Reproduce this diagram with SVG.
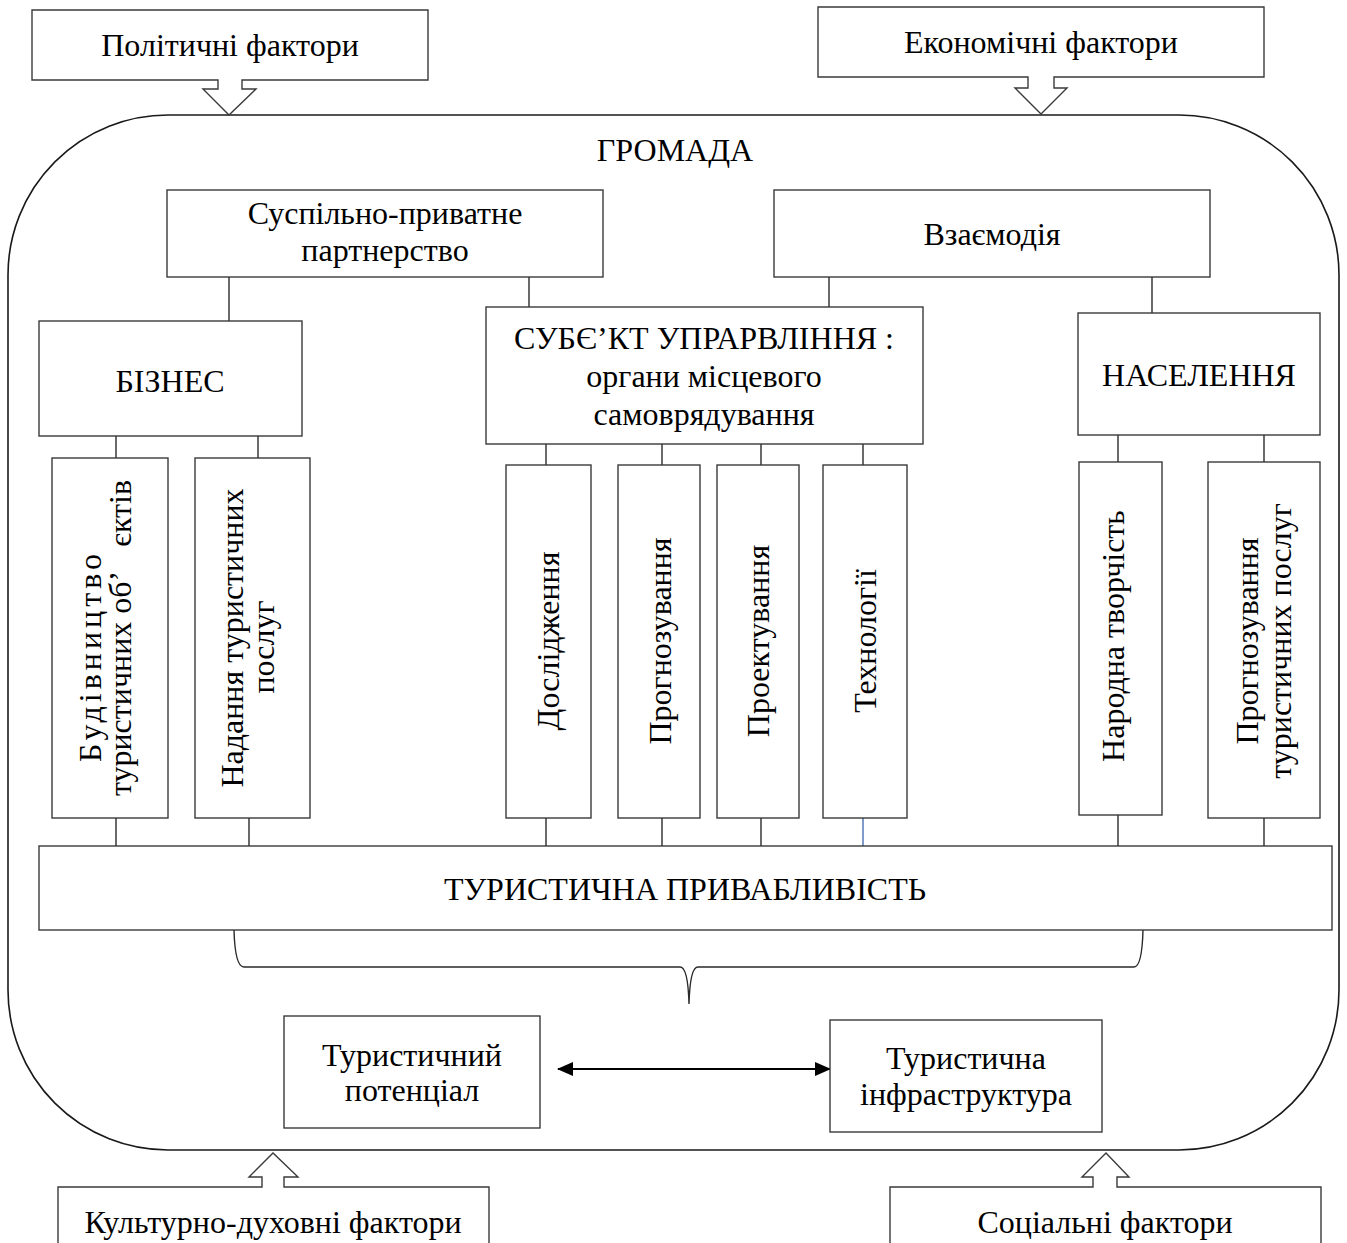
<svg xmlns="http://www.w3.org/2000/svg" width="1347" height="1243" viewBox="0 0 1347 1243">
<style>
.b{fill:#fff;stroke:#3a3a3a;stroke-width:1.4}
.o{fill:none;stroke:#1a1a1a;stroke-width:1.6}
.c{fill:none;stroke:#2a2a2a;stroke-width:1.4}
text{font-family:"Liberation Serif","Times New Roman",serif;font-size:32px;fill:#000;text-anchor:middle}
</style>
<defs>
<marker id="ah" viewBox="0 0 16 14" refX="15" refY="7" markerWidth="16" markerHeight="14" markerUnits="userSpaceOnUse" orient="auto-start-reverse">
<path d="M0,0 L16,7 L0,14 Z" fill="#000"/>
</marker>
</defs>
<rect x="0" y="0" width="1347" height="1243" fill="#fff"/>
<g id="gromada">
<rect class="o" x="8" y="115" width="1331" height="1035" rx="160" ry="160"/>
<text x="675" y="161">ГРОМАДА</text>
</g>
<g id="politychni">
<path class="b" d="M32,10 H428 V80 H242 V89 H256 L229,115 L203,89 H218 V80 H32 Z"/>
<text x="230" y="56">Політичні фактори</text>
</g>
<g id="ekonomichni">
<path class="b" d="M818,7 H1264 V77 H1054 V88 H1067 L1041,114 L1015,88 H1028 V77 H818 Z"/>
<text x="1041" y="53">Економічні фактори</text>
</g>
<g id="kulturni">
<path class="b" d="M58,1250 V1187 H262 V1177 H249 L273,1153 L298,1177 H284 V1187 H489 V1250"/>
<text x="273" y="1233">Культурно-духовні фактори</text>
</g>
<g id="sotsialni">
<path class="b" d="M890,1250 V1187 H1093 V1177 H1082 L1106,1153 L1129,1177 H1117 V1187 H1321 V1250"/>
<text x="1105" y="1233">Соціальні фактори</text>
</g>
<g id="connectors">
<line class="c" x1="229" y1="277" x2="229" y2="321"/>
<line class="c" x1="529" y1="277" x2="529" y2="307"/>
<line class="c" x1="829" y1="277" x2="829" y2="307"/>
<line class="c" x1="1152" y1="277" x2="1152" y2="313"/>
<line class="c" x1="116" y1="436" x2="116" y2="458"/>
<line class="c" x1="258" y1="436" x2="258" y2="458"/>
<line class="c" x1="116" y1="818" x2="116" y2="846"/>
<line class="c" x1="249" y1="818" x2="249" y2="846"/>
<line class="c" x1="546" y1="444" x2="546" y2="465"/>
<line class="c" x1="662" y1="444" x2="662" y2="465"/>
<line class="c" x1="761" y1="444" x2="761" y2="465"/>
<line class="c" x1="863" y1="444" x2="863" y2="465"/>
<line class="c" x1="546" y1="818" x2="546" y2="846"/>
<line class="c" x1="662" y1="818" x2="662" y2="846"/>
<line class="c" x1="761" y1="818" x2="761" y2="846"/>
<line class="c" x1="863" y1="818" x2="863" y2="846" style="stroke:#4a6fb5"/>
<line class="c" x1="1118" y1="435" x2="1118" y2="462"/>
<line class="c" x1="1264" y1="435" x2="1264" y2="462"/>
<line class="c" x1="1118" y1="815" x2="1118" y2="846"/>
<line class="c" x1="1264" y1="818" x2="1264" y2="846"/>
<path class="c" d="M234,930 Q235,967 244,967 H680 Q688,967 689,1004 Q690,967 698,967 H1134 Q1142,967 1143,930"/>
<line x1="558" y1="1069" x2="830" y2="1069" stroke="#000" stroke-width="2" marker-start="url(#ah)" marker-end="url(#ah)"/>
</g>
<g id="partnerstvo">
<rect class="b" x="167" y="190" width="436" height="87"/>
<text x="385" y="224">Суспільно-приватне</text>
<text x="385" y="261">партнерство</text>
</g>
<g id="vzaiemodiia">
<rect class="b" x="774" y="190" width="436" height="87"/>
<text x="992" y="245">Взаємодія</text>
</g>
<g id="biznes">
<rect class="b" x="39" y="321" width="263" height="115"/>
<text x="170" y="392">БІЗНЕС</text>
</g>
<g id="subiekt">
<rect class="b" x="486" y="307" width="437" height="137"/>
<text x="704" y="349">СУБЄ’КТ УПРАРВЛІННЯ :</text>
<text x="704" y="387">органи місцевого</text>
<text x="704" y="425">самоврядування</text>
</g>
<g id="naselennia">
<rect class="b" x="1078" y="313" width="242" height="122"/>
<text x="1199" y="386">НАСЕЛЕННЯ</text>
</g>
<g id="budivnytstvo">
<rect class="b" x="52" y="458" width="116" height="360"/>
<text transform="translate(110,638) rotate(-90)"><tspan x="-18" y="-9" letter-spacing="4">Будівництво</tspan><tspan x="0" y="21">туристичних об’&#160;&#160;&#160;єктів</tspan></text>
</g>
<g id="nadannia">
<rect class="b" x="195" y="458" width="115" height="360"/>
<text transform="translate(252,638) rotate(-90)"><tspan x="0" y="-9">Надання туристичних</tspan><tspan x="-9" y="22">послуг</tspan></text>
</g>
<g id="doslidzhennia">
<rect class="b" x="506" y="465" width="85" height="353"/>
<text transform="translate(549,641) rotate(-90)" y="10">Дослідження</text>
</g>
<g id="prohnozuvannia">
<rect class="b" x="618" y="465" width="82" height="353"/>
<text transform="translate(661,641) rotate(-90)" y="10">Прогнозування</text>
</g>
<g id="proektuvannia">
<rect class="b" x="717" y="465" width="82" height="353"/>
<text transform="translate(759,641) rotate(-90)" y="10">Проектування</text>
</g>
<g id="tekhnolohii">
<rect class="b" x="823" y="465" width="84" height="353"/>
<text transform="translate(866,641) rotate(-90)" y="10">Технології</text>
</g>
<g id="narodna">
<rect class="b" x="1079" y="462" width="83" height="353"/>
<text transform="translate(1115,636) rotate(-90)" y="9">Народна творчість</text>
</g>
<g id="prohnozuvannia-posluh">
<rect class="b" x="1208" y="462" width="112" height="356"/>
<text transform="translate(1264,641) rotate(-90)"><tspan x="0" y="-6">Прогнозування</tspan><tspan x="0" y="27">туристичних послуг</tspan></text>
</g>
<g id="pryvablyvist">
<rect class="b" x="39" y="846" width="1293" height="84"/>
<text x="685" y="900">ТУРИСТИЧНА ПРИВАБЛИВІСТЬ</text>
</g>
<g id="potentsial">
<rect class="b" x="284" y="1016" width="256" height="112"/>
<text x="412" y="1066">Туристичний</text>
<text x="412" y="1101">потенціал</text>
</g>
<g id="infrastruktura">
<rect class="b" x="830" y="1020" width="272" height="112"/>
<text x="966" y="1069">Туристична</text>
<text x="966" y="1105">інфраструктура</text>
</g>
</svg>
